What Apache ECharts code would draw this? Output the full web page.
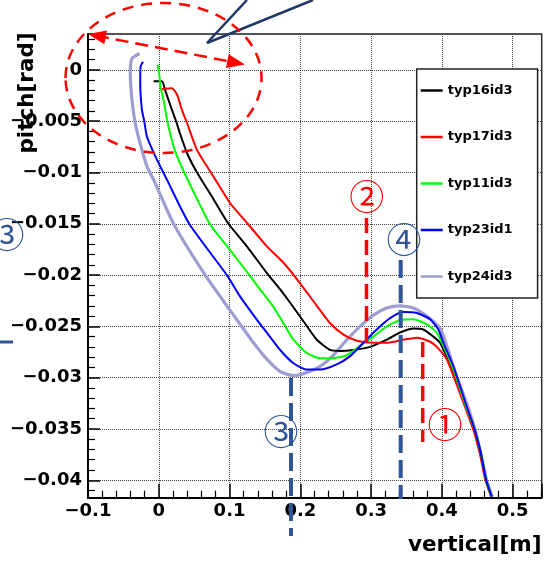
<!DOCTYPE html>
<html><head><meta charset="utf-8">
<script src="https://cdn.jsdelivr.net/npm/echarts@6/dist/echarts.min.js"></script>
<style>html,body{margin:0;padding:0;background:#fff;}#c{width:558px;height:562px;}</style>
</head><body><div id="c"></div>
<script>
const seriesNames = ['typ16id3','typ17id3','typ11id3','typ23id1','typ24id3'];
const seriesColors = ['#000000','#ff0000','#00ff00','#0000ff','#9d9dd2'];
const xTitle = 'vertical[m]';
const yTitle = 'pitch[rad]';

const typ16id3 = [[-0.0074,-0.0011],[0.0045,-0.0011],[0.0091,-0.0020],[0.0186,-0.0039],[0.0245,-0.0050],[0.0300,-0.0062],[0.0398,-0.0081],[0.0540,-0.0100],[0.0773,-0.0126],[0.0985,-0.0150],[0.1245,-0.0172],[0.1527,-0.0198],[0.1715,-0.0214],[0.1856,-0.0227],[0.2044,-0.0245],[0.2233,-0.0263],[0.2421,-0.0273],[0.2562,-0.0274],[0.2750,-0.0273],[0.2986,-0.0270],[0.3221,-0.0263],[0.3409,-0.0256],[0.3597,-0.0252],[0.3738,-0.0253],[0.3879,-0.0260],[0.3974,-0.0266],[0.4068,-0.0280],[0.4210,-0.0305],[0.4350,-0.0330],[0.4460,-0.0350],[0.4545,-0.0372],[0.4625,-0.0400],[0.4700,-0.0416]];
const typ17id3 = [[0.0021,-0.0019],[0.0186,-0.0018],[0.0257,-0.0024],[0.0327,-0.0039],[0.0400,-0.0052],[0.0539,-0.0078],[0.0680,-0.0094],[0.0773,-0.0104],[0.1009,-0.0130],[0.1245,-0.0149],[0.1527,-0.0172],[0.1762,-0.0188],[0.1997,-0.0208],[0.2233,-0.0230],[0.2421,-0.0247],[0.2609,-0.0258],[0.2798,-0.0264],[0.3032,-0.0266],[0.3221,-0.0266],[0.3456,-0.0263],[0.3645,-0.0261],[0.3833,-0.0265],[0.3927,-0.0270],[0.4068,-0.0282],[0.4200,-0.0305],[0.4340,-0.0331],[0.4450,-0.0352],[0.4535,-0.0374],[0.4615,-0.0400],[0.4695,-0.0416]];
const typ11id3 = [[-0.0017,0.0005],[0.0011,-0.0007],[0.0021,-0.0016],[0.0067,-0.0029],[0.0120,-0.0050],[0.0225,-0.0078],[0.0360,-0.0100],[0.0720,-0.0150],[0.1000,-0.0175],[0.1280,-0.0200],[0.1430,-0.0214],[0.1610,-0.0230],[0.1762,-0.0247],[0.1903,-0.0263],[0.2092,-0.0276],[0.2280,-0.0281],[0.2468,-0.0281],[0.2657,-0.0278],[0.2844,-0.0269],[0.3032,-0.0260],[0.3221,-0.0250],[0.3409,-0.0244],[0.3597,-0.0243],[0.3786,-0.0248],[0.3927,-0.0256],[0.4021,-0.0269],[0.4162,-0.0292],[0.4350,-0.0330],[0.4460,-0.0350],[0.4545,-0.0372],[0.4625,-0.0400],[0.4700,-0.0416]];
const typ23id1 = [[-0.0224,0.0008],[-0.0258,0.0003],[-0.0262,-0.0013],[-0.0238,-0.0039],[-0.0205,-0.0050],[-0.0167,-0.0065],[-0.0050,-0.0084],[0.0115,-0.0107],[0.0430,-0.0150],[0.0962,-0.0200],[0.1150,-0.0221],[0.1338,-0.0239],[0.1457,-0.0250],[0.1527,-0.0256],[0.1715,-0.0273],[0.1903,-0.0286],[0.2092,-0.0292],[0.2280,-0.0292],[0.2515,-0.0287],[0.2703,-0.0279],[0.2891,-0.0266],[0.3080,-0.0253],[0.3268,-0.0242],[0.3456,-0.0236],[0.3645,-0.0237],[0.3833,-0.0243],[0.3950,-0.0253],[0.4021,-0.0266],[0.4162,-0.0289],[0.4350,-0.0328],[0.4460,-0.0350],[0.4545,-0.0372],[0.4625,-0.0400],[0.4705,-0.0416]];
const typ24id3 = [[-0.0271,0.0016],[-0.0379,0.0011],[-0.0403,-0.0003],[-0.0379,-0.0029],[-0.0332,-0.0052],[-0.0262,-0.0072],[-0.0167,-0.0094],[-0.0074,-0.0107],[0.0209,-0.0150],[0.0656,-0.0200],[0.1150,-0.0248],[0.1338,-0.0266],[0.1527,-0.0282],[0.1715,-0.0294],[0.1903,-0.0298],[0.2092,-0.0295],[0.2280,-0.0289],[0.2468,-0.0278],[0.2657,-0.0263],[0.2844,-0.0250],[0.3032,-0.0239],[0.3221,-0.0232],[0.3409,-0.0230],[0.3597,-0.0232],[0.3786,-0.0240],[0.3974,-0.0252],[0.4068,-0.0269],[0.4210,-0.0299],[0.4355,-0.0326],[0.4465,-0.0350],[0.4550,-0.0374],[0.4632,-0.0400],[0.4712,-0.0416]];
const seriesData = [typ16id3, typ17id3, typ11id3, typ23id1, typ24id3];

const xMin = -0.1, xMax = 0.541, xStep = 0.1;
const yMin = -0.0417, yMax = 0.0035, yStep = 0.005;

function fmt(v){
  const s = +(+v).toFixed(4);
  if (s === 0) return '0';
  return String(s).replace('-', '\u2212');
}

const chart = echarts.init(document.getElementById('c'), null, {renderer:'canvas'});
const FONT = 'DejaVu Sans';
const RED = '#ff0000', NAVY = '#2f5597', DARK = '#1f3864';

function arrowHead(tip, from, L, W){
  const dx = tip[0]-from[0], dy = tip[1]-from[1];
  const len = Math.hypot(dx,dy), ux = dx/len, uy = dy/len;
  const bx = tip[0]-ux*L, by = tip[1]-uy*L;
  return [tip, [bx - uy*W, by + ux*W], [bx + uy*W, by - ux*W]];
}
const aL = [88,34], aR = [245,64.5];

const graphics = [
  {type:'line', shape:{x1:207,y1:43,x2:247,y2:0}, style:{stroke:DARK, lineWidth:2.5}, z:100},
  {type:'line', shape:{x1:207,y1:43,x2:313,y2:0}, style:{stroke:DARK, lineWidth:2.5}, z:100},
  {type:'ellipse', shape:{cx:163.5,cy:78,rx:98,ry:75}, style:{fill:null, stroke:RED, lineWidth:2.5, lineDash:[11,8]}, z:100},
  {type:'line', shape:{x1:aL[0]+8,y1:aL[1]+1.6,x2:aR[0]-8,y2:aR[1]-1.6}, style:{stroke:RED, lineWidth:2.5, lineDash:[13,7]}, z:100},
  {type:'polygon', shape:{points:arrowHead(aL,aR,18,7)}, style:{fill:RED}, z:100},
  {type:'polygon', shape:{points:arrowHead(aR,aL,18,7)}, style:{fill:RED}, z:100},
  {type:'line', shape:{x1:366.5,y1:218,x2:366.5,y2:346}, style:{stroke:RED, lineWidth:3.5, lineDash:[15,7]}, z:100},
  {type:'line', shape:{x1:422.7,y1:342,x2:422.7,y2:442}, style:{stroke:RED, lineWidth:3.5, lineDash:[15,7]}, z:100},
  {type:'line', shape:{x1:400.7,y1:260,x2:400.7,y2:499}, style:{stroke:NAVY, lineWidth:4, lineDash:[18,7]}, z:100},
  {type:'line', shape:{x1:291,y1:378,x2:291,y2:536}, style:{stroke:NAVY, lineWidth:4, lineDash:[18,7]}, z:100},
  {type:'line', shape:{x1:0,y1:342,x2:13,y2:342}, style:{stroke:NAVY, lineWidth:3}, z:100},
  {type:'text', x:366.7, y:197, style:{text:'\u2461', fill:RED, fontSize:35, fontFamily:'Noto Sans CJK JP', align:'center', verticalAlign:'middle'}, z:101},
  {type:'text', x:404, y:240, style:{text:'\u2463', fill:NAVY, fontSize:35, fontFamily:'Noto Sans CJK JP', align:'center', verticalAlign:'middle'}, z:101},
  {type:'text', x:445, y:425, style:{text:'\u2460', fill:RED, fontSize:35, fontFamily:'Noto Sans CJK JP', align:'center', verticalAlign:'middle'}, z:101},
  {type:'text', x:281, y:432, style:{text:'\u2462', fill:NAVY, fontSize:35, fontFamily:'Noto Sans CJK JP', align:'center', verticalAlign:'middle'}, z:101},
  {type:'text', x:7, y:235, style:{text:'\u2462', fill:NAVY, fontSize:35, fontFamily:'Noto Sans CJK JP', align:'center', verticalAlign:'middle'}, z:101},
  {type:'text', x:541.5, y:545, style:{text:xTitle, fill:'#000', fontSize:21.5, fontWeight:'bold', fontFamily:FONT, align:'right', verticalAlign:'middle'}, z:50},
  {type:'text', x:27, y:93, rotation:Math.PI/2, style:{text:yTitle, fill:'#000', fontSize:21.5, fontWeight:'bold', fontFamily:FONT, align:'center', verticalAlign:'middle'}, z:50}
];

const gridLine = {show:true, lineStyle:{type:'dotted', color:'#444', width:1}};

const option = {
  animation:false,
  backgroundColor:'#fff',
  grid:{left:88, right:16.3, top:34, bottom:64.3, show:true, borderColor:'#222', borderWidth:1.5},
  legend:{
    orient:'vertical', left:416.7, top:69, icon:'rect',
    padding:[15,25,15,4], itemGap:33.5, itemWidth:22, itemHeight:2.5,
    backgroundColor:'#fff', borderColor:'#222', borderWidth:1.5,
    textStyle:{fontFamily:FONT, fontWeight:'bold', fontSize:13, color:'#000'},
    data:seriesNames
  },
  xAxis:{
    type:'value', min:xMin, max:xMax, interval:xStep,
    axisLine:{show:true, onZero:false, lineStyle:{color:'#000', width:2}},
    axisTick:{show:true, inside:true, length:14, lineStyle:{color:'#000', width:1.5}},
    minorTick:{show:true, splitNumber:5, length:7, lineStyle:{color:'#000', width:1.2}},
    axisLabel:{show:true, margin:5, showMinLabel:true, showMaxLabel:false, formatter:fmt,
      fontFamily:FONT, fontWeight:'bold', fontSize:18, color:'#000'},
    splitLine:gridLine
  },
  yAxis:{
    type:'value', min:yMin, max:yMax, splitNumber:9, minInterval:yStep, maxInterval:yStep,
    axisLine:{show:true, onZero:false, lineStyle:{color:'#000', width:2}},
    axisTick:{show:true, inside:true, length:12, lineStyle:{color:'#000', width:1.5}},
    minorTick:{show:true, splitNumber:5, length:7, lineStyle:{color:'#000', width:1.2}},
    axisLabel:{show:true, margin:6, showMinLabel:false, showMaxLabel:false, formatter:fmt,
      fontFamily:FONT, fontWeight:'bold', fontSize:18, color:'#000'},
    splitLine:gridLine
  },
  series: seriesNames.map((n,i)=>({
    name:n, type:'line', data:seriesData[i], symbol:'none', showSymbol:false,
    smooth:0.2,
    lineStyle:{color:seriesColors[i], width: i===4 ? 3.2 : 2},
    itemStyle:{color:seriesColors[i]},
    z: i===4 ? 2 : 3, clip:true
  })),
  graphic: graphics
};
chart.setOption(option);
</script>
</body></html>
